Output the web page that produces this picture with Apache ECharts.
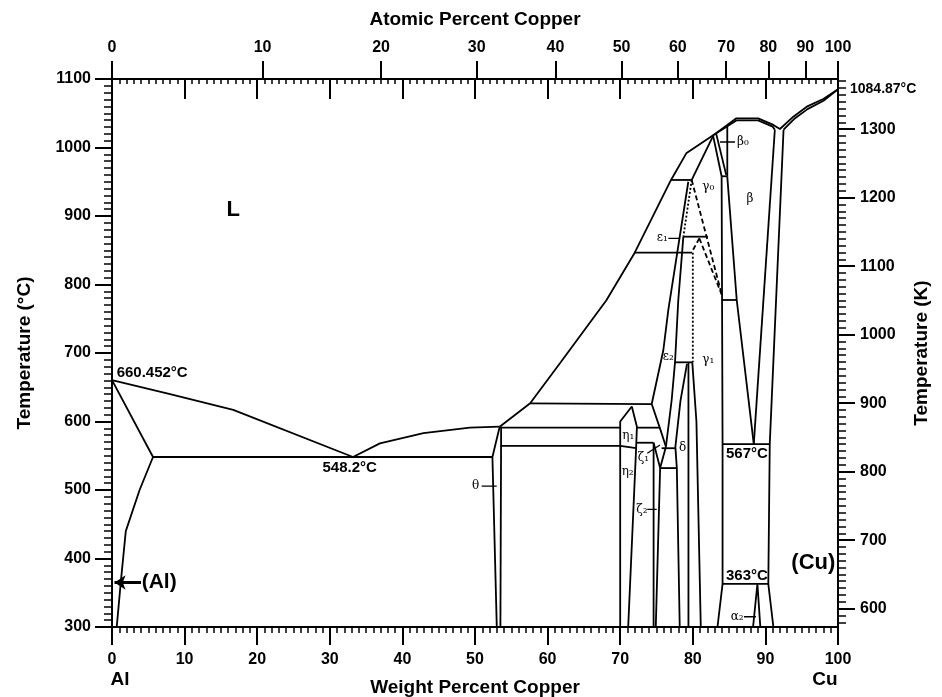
<!DOCTYPE html>
<html><head><meta charset="utf-8">
<script src="https://cdn.jsdelivr.net/npm/echarts@6/dist/echarts.min.js"></script>
<style>html,body{margin:0;padding:0;background:#fff}#c{width:942px;height:697px}</style>
</head><body><div id="c"></div>
<script>
// ---- axis tick values ----
const atTicks = [0, 10, 20, 30, 40, 50, 60, 70, 80, 90, 100];      // atomic % Cu (top)
const kTicks = [600, 700, 800, 900, 1000, 1100, 1200, 1300];        // Kelvin (right)

// ---- phase boundaries: [wt% Cu, °C] ----
const liquidusAl = [[0,660.452],[8,640],[16.7,617],[33.2,548.2]];
const solidusAl = [[0,660.452],[5.65,548.2]];
const solvusAl = [[5.65,548.2],[3.8,500],[1.9,440],[1.25,370],[0.65,300]];
const eutectic548 = [[5.65,548.2],[52.4,548.2]];
const liquidusTheta = [[33.2,548.2],[36.9,568],[42.9,583],[49.3,591],[53.4,592.4]];
const thetaLeft = [[53.4,592.4],[52.4,548.2],[53.0,300]];
const thetaRight = [[53.6,592.4],[53.5,300]];
const liquidusMain = [[53.4,592.4],[57.6,626.6],[61.7,685],[68.1,777],[72.0,846.4],[77.0,952.6],[79.1,991.5],[82.7,1017],[86.0,1042.6],[89.0,1042.6],[91.1,1033],[92.0,1027],[93.85,1045],[95.7,1059.6],[97.97,1070.8],[100,1084.87]];
const solidusBeta = [[82.7,1017],[86.0,1039.5],[89.0,1039.5],[91.0,1030.5],[91.3,1026]];
const solidusCu = [[92.5,1026],[93.95,1041.5],[95.8,1056],[98.0,1068.3],[100,1084.87]];
const line591a = [[53.5,591],[70.0,591]];
const line565 = [[53.5,564.5],[70.0,564.5],[72.2,561]];
const line626 = [[57.6,626.6],[74.3,625.5]];
const eta1Left = [[71.6,622],[70.0,600],[70.0,300]];
const eta1Right = [[71.6,622],[72.3,592.4],[72.2,563],[71.1,300]];
const line591b = [[72.3,591],[75.5,591]];
const line569 = [[72.3,569],[74.6,569]];
const zetaLeft = [[74.6,569],[74.6,300]];
const zetaRight = [[74.6,569],[75.5,532],[74.9,300]];
const epsLeft = [[79.38,950],[76.63,763],[75.94,704],[74.34,625.5],[75.48,590],[76.3,563.2]];
const epsRight = [[78.7,869.8],[78.0,777],[77.55,686.4],[77.09,631.4],[76.3,563.2]];
const epsRightDotted = [[79.85,952.6],[78.7,869.8]];
const deltaTop = [[75.7,561],[77.6,561]];
const deltaBottom = [[75.5,532],[77.8,532]];
const deltaLeftSide = [[76.3,563.2],[75.5,532]];
const deltaLeft = [[79.2,684],[78.3,630],[77.6,563],[77.8,532],[78.2,300]];
const gamma1Left = [[79.4,686.4],[79.4,300]];
const gamma1Curve = [[79.93,686.4],[80.5,600],[81.1,300]];
const line686 = [[77.55,686.4],[79.93,686.4]];
const dotted80 = [[80.0,846.4],[80.0,686.4]];
const line848 = [[72.0,846.4],[79.9,846.4]];
const line870 = [[78.7,869.8],[82.1,869.8]];
const line955 = [[77.0,952.6],[79.85,952.6]];
const gamma0Left = [[79.85,952.6],[82.8,1017]];
const gamma0RightDashed = [[79.85,952.6],[84.0,784.7]];
const gamma1TopDashed = [[80.9,867.4],[84.0,784.7]];
const shortDashed = [[80.9,867.4],[80.0,850]];
const beta0Left = [[82.8,1017],[83.97,958]];
const beta0Inner = [[83.2,1021],[84.6,960]];
const beta0Right = [[84.75,1031],[84.75,957.4]];
const line958 = [[83.97,958],[84.75,958]];
const gamma1Right = [[83.97,958],[84.1,567],[84.1,363],[83.4,300]];
const betaLeft = [[84.75,957.4],[86.05,777.4],[88.4,567]];
const line780 = [[83.97,777.4],[86.05,777.4]];
const betaRight = [[91.3,1026],[88.4,567]];
const cuBoundary = [[92.5,1026],[90.6,567],[90.4,363],[91.1,300]];
const line567 = [[84.1,567],[90.6,567]];
const line363 = [[84.1,363],[90.4,363]];
const alpha2 = [[88.3,300],[88.9,363],[89.3,300]];

// leader lines for small labels
const leaderTheta = [[50.92,505.8],[52.99,505.8]];
const leaderEps1 = [[76.63,867.4],[78.24,867.4]];
const leaderBeta0 = [[83.75,1008],[85.81,1008]];
const leaderZeta1 = [[73.73,553.6],[75.48,565.7]];
const leaderZeta2 = [[73.73,471.8],[75.03,471.8]];
const leaderAlpha2 = [[87.05,315],[88.7,315]];
const arrowAl = [[4.0,365],[0.35,365]];

// ---- text annotations: [text, wt% Cu, °C] ----
const greekLabels = [['β₀',86.9,1007.6],['β',87.88,924.4],['γ₀',82.14,941.9],['ε₁',75.8,867.4],['ε₂',76.63,694.6],['γ₁',82.14,689.8],['η₁',71.12,578.8],['η₂',71.03,526.7],['ζ₁',73.2,546.3],['ζ₂',73.0,470.8],['δ',78.6,560.9],['θ',50.1,505.8],['α₂',86.1,315]];
const tempLabelsLeft = [['660.452°C',0.64,671.5],['567°C',84.57,552.6],['363°C',84.57,375.2]];
const tempLabelsCenter = [['548.2°C',32.74,532.8]];
const phaseLabels = [['L',16.7,909],['(Cu)',96.6,394.2]];
const alLabel = [['(Al)',4.09,365.7]];
const meltLabel = [['1084.87°C',100,1084.87]];

// ---- helpers ----
const MW_CU = 63.546, MW_AL = 26.982;
const atToWt = a => a * MW_CU / (a * MW_CU + (100 - a) * MW_AL) * 100;
const atWt = atTicks.map(atToWt);
const kC = kTicks.map(k => k - 273.15);
const kMinorC = [];
for (let k = 580; k <= 1370; k += 10) kMinorC.push(k - 273.15);

const FONT = '"Liberation Sans", Arial, sans-serif';
const black = '#000';
const lab = { color: black, fontFamily: FONT, fontWeight: 'bold', fontSize: 16 };
const nameStyle = { color: black, fontFamily: FONT, fontWeight: 'bold', fontSize: 19 };

function ln(data, type, width) {
  return { type: 'line', data: data, symbol: 'none', silent: true, animation: false,
    xAxisIndex: 0, yAxisIndex: 0,
    lineStyle: { color: black, width: width || 1.8, type: type || 'solid' }, z: 3 };
}
function txt(arr, style, position, dist) {
  return { type: 'scatter', symbolSize: 0, silent: true, animation: false, clip: false,
    xAxisIndex: 0, yAxisIndex: 0, itemStyle: { color: black },
    data: arr.map(d => ({ name: d[0], value: [d[1], d[2]] })),
    label: Object.assign({ show: true, formatter: '{b}', position: position || 'inside', distance: dist || 0,
      color: black, textBorderWidth: 0, opacity: 1 }, style), z: 5 };
}

const solidLines = [liquidusAl, solidusAl, solvusAl, eutectic548, liquidusTheta, thetaLeft, thetaRight,
  liquidusMain, solidusBeta, solidusCu, line591a, line565, line626, eta1Left, eta1Right, line591b, line569,
  zetaLeft, zetaRight, epsLeft, epsRight, deltaTop, deltaBottom, deltaLeftSide, deltaLeft, gamma1Left,
  gamma1Curve, line686, line848, line870, line955, gamma0Left, beta0Left, beta0Inner, beta0Right, line958,
  gamma1Right, betaLeft, line780, betaRight, cuBoundary, line567, line363, alpha2];
const leaders = [leaderTheta, leaderEps1, leaderBeta0, leaderZeta1, leaderZeta2, leaderAlpha2];

const series = [];
solidLines.forEach(d => series.push(ln(d)));
[gamma0RightDashed, gamma1TopDashed, shortDashed].forEach(d => series.push(ln(d, [5, 3])));
[epsRightDotted, dotted80].forEach(d => series.push(ln(d, [2, 2])));
leaders.forEach(d => series.push(ln(d, 'solid', 1.3)));
series.push({ type: 'lines', coordinateSystem: 'cartesian2d', xAxisIndex: 0, yAxisIndex: 0, silent: true, animation: false,
  symbol: ['none', 'arrow'], symbolSize: 11,
  lineStyle: { color: black, width: 3, opacity: 1 },
  data: [{ coords: arrowAl }], z: 4 });
series.push(txt(greekLabels, { fontFamily: '"DejaVu Serif", serif', fontSize: 12 }));
series.push(txt(tempLabelsLeft, { fontFamily: FONT, fontWeight: 'bold', fontSize: 15 }, 'right', 0));
series.push(txt(tempLabelsCenter, { fontFamily: FONT, fontWeight: 'bold', fontSize: 15 }));
series.push(txt(phaseLabels, { fontFamily: FONT, fontWeight: 'bold', fontSize: 22 }));
series.push(txt(alLabel, { fontFamily: FONT, fontWeight: 'bold', fontSize: 21 }, 'right', 0));
series.push(txt(meltLabel, { fontFamily: FONT, fontWeight: 'bold', fontSize: 14 }, 'right', 12));

const axLine = { show: true, onZero: false, lineStyle: { color: black, width: 2 } };
const gridBox = { left: 112, right: 104, top: 79, bottom: 70, containLabel: false, outerBoundsMode: 'none' };

const option = {
  animation: false,
  backgroundColor: '#fff',
  textStyle: { fontFamily: FONT },
  grid: [Object.assign({}, gridBox), Object.assign({}, gridBox)],
  xAxis: [
    { gridIndex: 0, type: 'value', min: 0, max: 100, interval: 10, position: 'bottom',
      axisLine: axLine, splitLine: { show: false },
      axisTick: { length: 18, lineStyle: { color: black, width: 2 } },
      minorTick: { show: true, splitNumber: 10, length: 6, lineStyle: { color: black, width: 1.5 } },
      axisLabel: Object.assign({}, lab, { margin: 25,
        formatter: v => v === 0 ? '0\n{el|Al}' : (v === 100 ? '100\n{ec|Cu}' : String(v)),
        rich: { el: { fontFamily: FONT, fontWeight: 'bold', fontSize: 19, color: black, padding: [2, 0, 0, 16] },
                ec: { fontFamily: FONT, fontWeight: 'bold', fontSize: 19, color: black, padding: [2, 26, 0, 0] } } }),
      name: 'Weight Percent Copper', nameLocation: 'middle', nameGap: 51, nameMoveOverlap: false, nameTextStyle: nameStyle },
    { gridIndex: 0, type: 'value', min: 0, max: 100, position: 'top',
      axisLine: axLine, splitLine: { show: false },
      axisTick: { customValues: atWt, length: 18, lineStyle: { color: black, width: 2 } },
      axisLabel: Object.assign({}, lab, { margin: 23, customValues: atWt, showMinLabel: true, showMaxLabel: true,
        formatter: v => { let best = 0; atWt.forEach((w, i) => { if (Math.abs(w - v) < Math.abs(atWt[best] - v)) best = i; }); return String(atTicks[best]); } }),
      name: 'Atomic Percent Copper', nameLocation: 'middle', nameGap: 50, nameMoveOverlap: false, nameTextStyle: nameStyle },
    { gridIndex: 1, type: 'value', min: 0, max: 100, interval: 10, position: 'top',
      axisLine: axLine, splitLine: { show: false }, axisLabel: { show: false },
      axisTick: { inside: true, length: 20, lineStyle: { color: black, width: 2 } },
      minorTick: { show: true, splitNumber: 10, length: 5, lineStyle: { color: black, width: 1.5 } } },
    { gridIndex: 1, type: 'value', min: 0, max: 100, position: 'bottom', show: false }
  ],
  yAxis: [
    { gridIndex: 0, type: 'value', min: 300, max: 1100, interval: 100, position: 'left',
      axisLine: axLine, splitLine: { show: false },
      axisTick: { length: 17, lineStyle: { color: black, width: 2 } },
      minorTick: { show: true, splitNumber: 10, length: 8, lineStyle: { color: black, width: 1.5 } },
      axisLabel: Object.assign({}, lab, { margin: 21, formatter: v => String(v) }),
      name: 'Temperature (°C)', nameLocation: 'middle', nameGap: 78, nameRotate: 90, nameMoveOverlap: false, nameTextStyle: nameStyle },
    { gridIndex: 0, type: 'value', min: 300, max: 1100, position: 'right',
      axisLine: axLine, splitLine: { show: false },
      axisTick: { customValues: kC, length: 17, lineStyle: { color: black, width: 2 } },
      axisLabel: Object.assign({}, lab, { margin: 22, customValues: kC, formatter: v => String(Math.round(v + 273.15)) }),
      name: 'Temperature (K)', nameLocation: 'middle', nameGap: 74, nameRotate: 90, nameMoveOverlap: false, nameTextStyle: nameStyle },
    { gridIndex: 1, type: 'value', min: 300, max: 1100, position: 'right',
      axisLine: axLine, splitLine: { show: false }, axisLabel: { show: false },
      axisTick: { customValues: kMinorC, length: 8, lineStyle: { color: black, width: 1.5 } } },
    { gridIndex: 1, type: 'value', min: 300, max: 1100, position: 'left', show: false }
  ],
  series: series
};
const chart = echarts.init(document.getElementById('c'), null, { renderer: 'canvas' });
chart.setOption(option);
</script>
</body></html>
